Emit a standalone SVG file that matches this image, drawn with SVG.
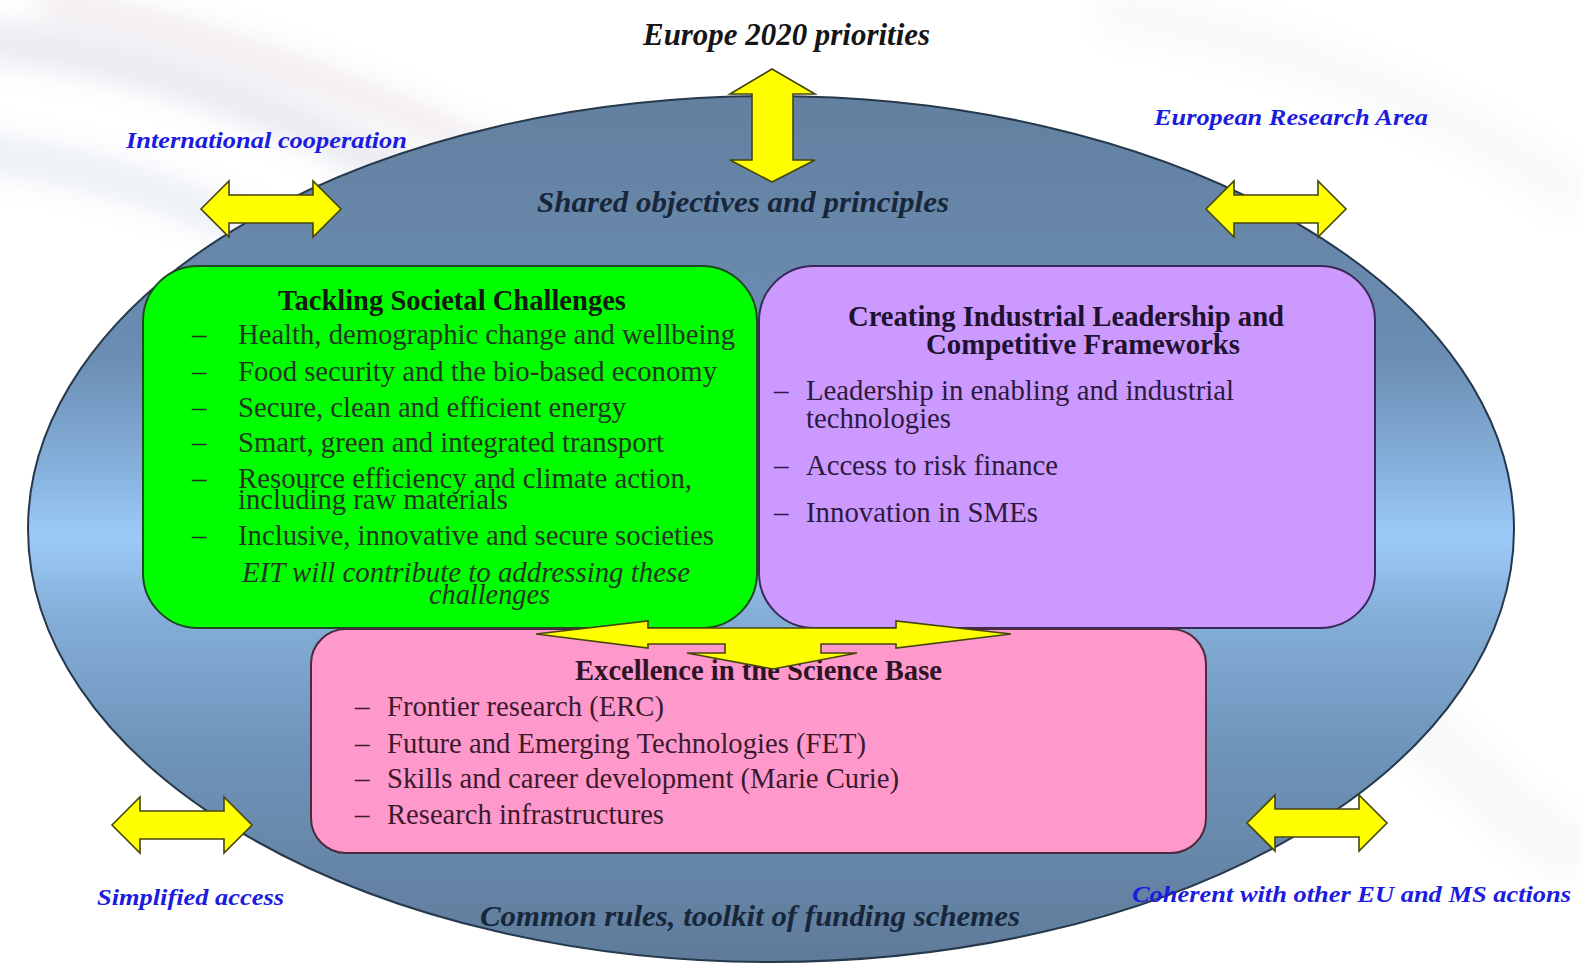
<svg xmlns="http://www.w3.org/2000/svg" width="1583" height="967" viewBox="0 0 1583 967">
<defs>
  <linearGradient id="ellGrad" gradientUnits="userSpaceOnUse" x1="0" y1="96" x2="0" y2="962">
    <stop offset="0" stop-color="#63809f"/>
    <stop offset="0.3" stop-color="#6b8db3"/>
    <stop offset="0.44" stop-color="#88b4e0"/>
    <stop offset="0.51" stop-color="#9ccaf8"/>
    <stop offset="0.6" stop-color="#84aed8"/>
    <stop offset="0.76" stop-color="#6e93b9"/>
    <stop offset="1" stop-color="#5f7b99"/>
  </linearGradient>
  <filter id="blur" x="-20%" y="-20%" width="140%" height="140%">
    <feGaussianBlur stdDeviation="14"/>
  </filter>
  <path id="harrow" d="M-70,0 L-42,-28 L-42,-14 L42,-14 L42,-28 L70,0 L42,28 L42,14 L-42,14 L-42,28 Z"/>
</defs>
<style>
  .arrow{fill:#ffff00;stroke:#45450c;stroke-width:1.6;stroke-linejoin:miter}
  .box{stroke-width:2}
  .bi{font-family:"Liberation Serif","Times New Roman",serif;font-weight:bold;font-style:italic}
  .blue{fill:#1c1ce0;font-size:24px}
  .dark{fill:#18263a;font-size:30px}
  .title{font-family:"Liberation Serif","Times New Roman",serif;font-weight:bold;font-size:29px}
  .item{font-family:"Liberation Serif","Times New Roman",serif;font-size:29px}
</style>

<!-- background -->
<rect x="0" y="0" width="1583" height="967" fill="#ffffff"/>
<g filter="url(#blur)" opacity="0.55" fill="none">
  <path d="M-20,40 C200,60 420,160 640,330" stroke="#d6d9e6" stroke-width="40"/>
  <path d="M40,0 C260,40 500,140 760,300" stroke="#e6dbe3" stroke-width="30"/>
  <path d="M-40,150 C160,170 330,250 470,380" stroke="#dde3ee" stroke-width="40"/>
  <path d="M1100,10 C1300,40 1450,110 1583,200" stroke="#f2f4f7" stroke-width="50"/>
  <path d="M1300,600 C1400,700 1480,800 1583,860" stroke="#f0f3f6" stroke-width="60"/>
</g>

<!-- outer ellipse -->
<g id="framework">
  <ellipse cx="771" cy="529" rx="743" ry="433" fill="url(#ellGrad)" stroke="#26384c" stroke-width="2"/>
  <text class="bi dark" x="537" y="212" textLength="412" lengthAdjust="spacingAndGlyphs">Shared objectives and principles</text>
  <text class="bi dark" x="480" y="926" textLength="540" lengthAdjust="spacingAndGlyphs">Common rules, toolkit of funding schemes</text>
</g>

<!-- outside labels -->
<g id="europe2020">
  <text class="bi" x="643" y="45" font-size="31" fill="#151515" textLength="287" lengthAdjust="spacingAndGlyphs">Europe 2020 priorities</text>
</g>
<g id="intl">
  <text class="bi blue" x="126" y="148" textLength="281" lengthAdjust="spacingAndGlyphs">International cooperation</text>
</g>
<g id="era">
  <text class="bi blue" x="1154" y="125" textLength="274" lengthAdjust="spacingAndGlyphs">European Research Area</text>
</g>
<g id="simplified">
  <text class="bi blue" x="97" y="905" textLength="187" lengthAdjust="spacingAndGlyphs">Simplified access</text>
</g>
<g id="coherent">
  <text class="bi blue" x="1132" y="902" textLength="439" lengthAdjust="spacingAndGlyphs">Coherent with other EU and MS actions</text>
</g>

<!-- Societal challenges -->
<g id="societal">
  <rect class="box" x="143" y="266" width="614" height="362" rx="55" ry="55" fill="#00ff00" stroke="#1f4a1f"/>
  <text class="title" x="278" y="310" fill="#101a10" textLength="348" lengthAdjust="spacingAndGlyphs">Tackling Societal Challenges</text>
  <g class="item" fill="#213621">
    <text x="192" y="344">–</text><text x="238" y="344" textLength="497" lengthAdjust="spacingAndGlyphs">Health, demographic change and wellbeing</text>
    <text x="192" y="381">–</text><text x="238" y="381" textLength="479" lengthAdjust="spacingAndGlyphs">Food security and the bio-based economy</text>
    <text x="192" y="417">–</text><text x="238" y="417" textLength="388" lengthAdjust="spacingAndGlyphs">Secure, clean and efficient energy</text>
    <text x="192" y="452">–</text><text x="238" y="452" textLength="426" lengthAdjust="spacingAndGlyphs">Smart, green and integrated transport</text>
    <text x="192" y="488">–</text><text x="238" y="488" textLength="454" lengthAdjust="spacingAndGlyphs">Resource efficiency and climate action,</text>
    <text x="238" y="509" textLength="270" lengthAdjust="spacingAndGlyphs">including raw materials</text>
    <text x="192" y="545">–</text><text x="238" y="545" textLength="476" lengthAdjust="spacingAndGlyphs">Inclusive, innovative and secure societies</text>
    <text x="242" y="582" font-style="italic" textLength="448" lengthAdjust="spacingAndGlyphs">EIT will contribute to addressing these</text>
    <text x="429" y="604" font-style="italic" textLength="121" lengthAdjust="spacingAndGlyphs">challenges</text>
  </g>
</g>

<!-- Industrial leadership -->
<g id="industrial">
  <rect class="box" x="759" y="266" width="616" height="362" rx="55" ry="55" fill="#cc99ff" stroke="#3a2858"/>
  <text class="title" x="848" y="326" fill="#1e1230" textLength="436" lengthAdjust="spacingAndGlyphs">Creating Industrial Leadership and</text>
  <text class="title" x="926" y="354" fill="#1e1230" textLength="314" lengthAdjust="spacingAndGlyphs">Competitive Frameworks</text>
  <g class="item" fill="#2c1a40">
    <text x="774" y="400">–</text><text x="806" y="400" textLength="428" lengthAdjust="spacingAndGlyphs">Leadership in enabling and industrial</text>
    <text x="806" y="428" textLength="145" lengthAdjust="spacingAndGlyphs">technologies</text>
    <text x="774" y="475">–</text><text x="806" y="475" textLength="252" lengthAdjust="spacingAndGlyphs">Access to risk finance</text>
    <text x="774" y="522">–</text><text x="806" y="522" textLength="232" lengthAdjust="spacingAndGlyphs">Innovation in SMEs</text>
  </g>
</g>

<!-- Excellence in science base -->
<g id="excellence">
  <rect class="box" x="311" y="629" width="895" height="224" rx="35" ry="35" fill="#ff99cc" stroke="#4a2a3c"/>
  <text class="title" x="575" y="680" fill="#2e1424" textLength="367" lengthAdjust="spacingAndGlyphs">Excellence in the Science Base</text>
  <g class="item" fill="#3c1a2c">
    <text x="355" y="716">–</text><text x="387" y="716" textLength="277" lengthAdjust="spacingAndGlyphs">Frontier research (ERC)</text>
    <text x="355" y="753">–</text><text x="387" y="753" textLength="479" lengthAdjust="spacingAndGlyphs">Future and Emerging Technologies (FET)</text>
    <text x="355" y="788">–</text><text x="387" y="788" textLength="512" lengthAdjust="spacingAndGlyphs">Skills and career development (Marie Curie)</text>
    <text x="355" y="824">–</text><text x="387" y="824" textLength="277" lengthAdjust="spacingAndGlyphs">Research infrastructures</text>
  </g>
</g>

<!-- connectors: yellow arrows -->
<g id="connectors">
  <path class="arrow" d="M772,69 L815,94 L793,94 L793,160 L815,160 L772,182 L730,160 L752,160 L752,94 L730,94 Z"/>
  <use href="#harrow" class="arrow" transform="translate(271,209)"/>
  <use href="#harrow" class="arrow" transform="translate(1276,209)"/>
  <use href="#harrow" class="arrow" transform="translate(182,825)"/>
  <use href="#harrow" class="arrow" transform="translate(1317,823)"/>
  <path class="arrow" d="M536,634 L648,621 L648,628 L896,628 L896,621 L1011,634 L896,648 L896,644 L821,644 L821,653 L857,653 L773,669 L687,653 L725,653 L725,644 L648,644 L648,648 Z"/>
</g>
</svg>
